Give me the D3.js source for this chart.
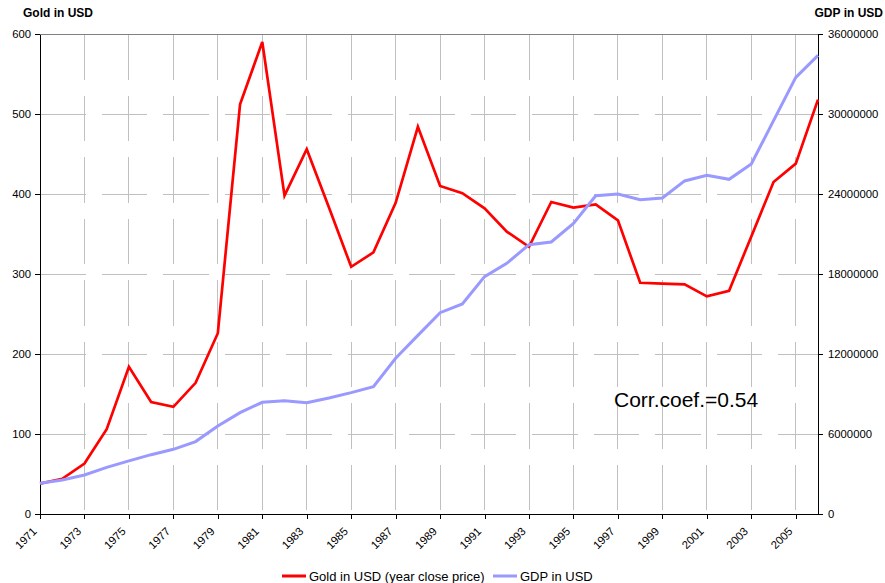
<!DOCTYPE html>
<html>
<head>
<meta charset="utf-8">
<script src="https://cdn.jsdelivr.net/npm/d3@7"></script>
<style>
  body { margin: 0; background: #fff; }
  svg { font-family: "Liberation Sans", Arial, sans-serif; }
  .axis path, .axis line { stroke: #000; shape-rendering: crispEdges; }
  .axis text { font-size: 11.3px; fill: #000; }
</style>
</head>
<body>
<div id="chart"></div>
<script>
// data
var years = [1971, 1972, 1973, 1974, 1975, 1976, 1977, 1978, 1979, 1980,
             1981, 1982, 1983, 1984, 1985, 1986, 1987, 1988, 1989, 1990,
             1991, 1992, 1993, 1994, 1995, 1996, 1997, 1998, 1999, 2000,
             2001, 2002, 2003, 2004, 2005, 2006];
var gold = [38, 44, 63, 106, 184, 140, 134, 164, 226, 512,
            590, 398, 456, 383, 309, 327, 389, 484, 410, 401,
            382, 353, 334, 390, 383, 387, 367, 289, 288, 287,
            272, 279, 347, 415, 438, 518];
var gdp = [2300000, 2550000, 2930000, 3500000, 3980000, 4450000, 4850000, 5430000, 6600000, 7600000,
           8380000, 8500000, 8350000, 8700000, 9100000, 9550000, 11680000, 13400000, 15100000, 15750000,
           17800000, 18800000, 20200000, 20400000, 21800000, 23870000, 24000000, 23570000, 23700000, 24980000,
           25400000, 25100000, 26250000, 29500000, 32750000, 34400000];
var goldTicks = [0, 100, 200, 300, 400, 500, 600];
var gdpTicks = [0, 6000000, 12000000, 18000000, 24000000, 30000000, 36000000];
var yearTicks = [1971, 1973, 1975, 1977, 1979, 1981, 1983, 1985, 1987, 1989,
                 1991, 1993, 1995, 1997, 1999, 2001, 2003, 2005];
var corrText = "Corr.coef.=0.54";

var W = 885, H = 583;
var m = {top: 34, right: 67, bottom: 69, left: 40};
var w = W - m.left - m.right;
var h = H - m.top - m.bottom;

var x = d3.scaleLinear().domain([1971, 2006]).range([0, w]);
var yL = d3.scaleLinear().domain([0, 600]).range([h, 0]);
var yR = d3.scaleLinear().domain([0, 36000000]).range([h, 0]);

var svg = d3.select("#chart").append("svg")
    .attr("width", W)
    .attr("height", H);
var g = svg.append("g")
    .attr("transform", "translate(" + m.left + "," + m.top + ")");

// grid
g.selectAll("line.hgrid")
    .data(goldTicks.filter(function(d) { return d > 0 && d < 600; }))
    .enter().append("line")
    .attr("x1", 0).attr("x2", w)
    .attr("y1", function(d) { return yL(d); })
    .attr("y2", function(d) { return yL(d); })
    .attr("stroke", "#c0c0c0")
    .attr("stroke-dasharray", "45.5,16")
    .attr("shape-rendering", "crispEdges");

g.selectAll("line.vgrid")
    .data(yearTicks.filter(function(d) { return d > 1971; }))
    .enter().append("line")
    .attr("x1", function(d) { return x(d); })
    .attr("x2", function(d) { return x(d); })
    .attr("y1", 0).attr("y2", h)
    .attr("stroke", "#c0c0c0")
    .attr("stroke-dasharray", "45.5,16")
    .attr("shape-rendering", "crispEdges");

// top border
g.append("line")
    .attr("x1", 0).attr("x2", w)
    .attr("y1", 0).attr("y2", 0)
    .attr("stroke", "#808080")
    .attr("shape-rendering", "crispEdges");

// axes
g.append("g")
    .attr("class", "axis")
    .call(d3.axisLeft(yL).tickValues(goldTicks).tickSize(5).tickPadding(4).tickSizeOuter(0));

g.append("g")
    .attr("class", "axis")
    .attr("transform", "translate(" + w + ",0)")
    .call(d3.axisRight(yR).tickValues(gdpTicks).tickFormat(d3.format("d")).tickSize(5).tickPadding(5).tickSizeOuter(0));

var xAx = g.append("g")
    .attr("class", "axis")
    .attr("transform", "translate(0," + h + ")")
    .call(d3.axisBottom(x).tickValues(yearTicks).tickFormat(d3.format("d")).tickSize(5).tickSizeOuter(0));
xAx.selectAll("text")
    .attr("text-anchor", "end")
    .attr("dy", null)
    .attr("y", null)
    .attr("transform", "translate(-3,18) rotate(-45)");

// lines
var lineGold = d3.line()
    .x(function(d, i) { return x(years[i]); })
    .y(function(d) { return yL(d); });
var lineGdp = d3.line()
    .x(function(d, i) { return x(years[i]); })
    .y(function(d) { return yR(d); });

g.append("path")
    .attr("d", lineGold(gold))
    .attr("fill", "none")
    .attr("stroke", "#ff0000")
    .attr("stroke-width", 2.7)
    .attr("stroke-linejoin", "miter");

g.append("path")
    .attr("d", lineGdp(gdp))
    .attr("fill", "none")
    .attr("stroke", "#9999ff")
    .attr("stroke-width", 3)
    .attr("stroke-linejoin", "miter");

// axis titles
svg.append("text")
    .attr("x", 23).attr("y", 17)
    .attr("font-size", "12px")
    .attr("font-weight", "bold")
    .text("Gold in USD");
svg.append("text")
    .attr("x", 883).attr("y", 17)
    .attr("text-anchor", "end")
    .attr("font-size", "12px")
    .attr("font-weight", "bold")
    .text("GDP in USD");

// annotation
svg.append("text")
    .attr("x", 614).attr("y", 407)
    .attr("font-size", "21px")
    .text(corrText);

// legend
var legend = [
  {label: "Gold in USD (year close price)", color: "#ff0000", x: 282},
  {label: "GDP in USD", color: "#9999ff", x: 493}
];
var lg = svg.selectAll("g.leg").data(legend).enter().append("g")
    .attr("transform", function(d) { return "translate(" + d.x + ",576)"; });
lg.append("line")
    .attr("x1", 0).attr("x2", 24)
    .attr("stroke", function(d) { return d.color; })
    .attr("stroke-width", 3);
lg.append("text")
    .attr("x", 27).attr("y", 4.5)
    .attr("font-size", "13px")
    .text(function(d) { return d.label; });
</script>
</body>
</html>
